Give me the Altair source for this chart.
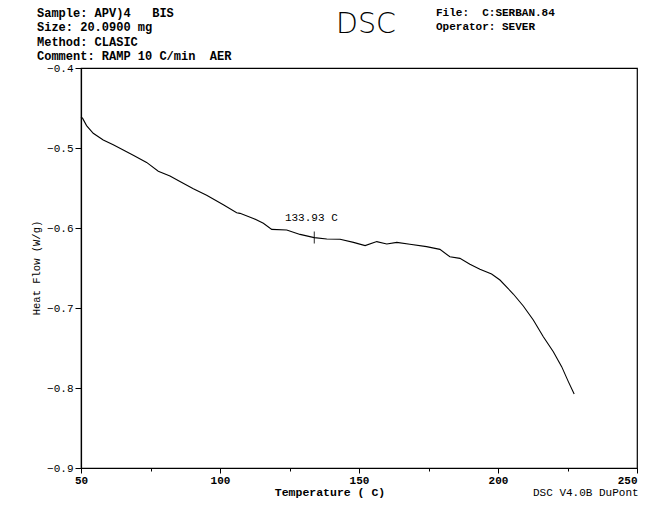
import altair as alt
import pandas as pd

# ---- data ----
temperature = [50, 50.6, 52, 54.4, 58, 61.6, 65.2, 68.8, 73.6, 77.8, 82, 85.6, 90.4, 95.2,
               101.2, 106, 107.2, 112, 115.6, 118.6, 124, 128.8, 133.9, 138.4, 143.2, 148,
               152.2, 156.4, 160, 163.6, 168.3, 174.3, 179.1, 182.7, 186.3, 189.9, 193.5,
               197.7, 200.7, 205.5, 209.1, 212.7, 216.3, 219.9, 222.9, 225.3, 227.4]
heat_flow = [-0.461, -0.463, -0.472, -0.4816, -0.49, -0.496, -0.5025, -0.509, -0.518, -0.529,
             -0.535, -0.542, -0.551, -0.559, -0.571, -0.581, -0.5817, -0.588, -0.594, -0.6017,
             -0.6025, -0.608, -0.612, -0.6138, -0.614, -0.618, -0.622, -0.617, -0.62, -0.618,
             -0.6204, -0.6233, -0.6267, -0.636, -0.638, -0.6454, -0.6517, -0.6575, -0.665,
             -0.6825, -0.6975, -0.715, -0.736, -0.7546, -0.7733, -0.792, -0.8075]

marker_t = [133.93]
marker_hf = [-0.612]
marker_label = ["133.93 C"]
label_hf = [-0.5875]

x_ticks = [50, 75, 100, 125, 150, 175, 200, 225, 250]
y_ticks = [-0.9, -0.85, -0.8, -0.75, -0.7, -0.65, -0.6, -0.55, -0.5, -0.45, -0.4]

NB = "\u00a0"
header_left = ["Sample: APV)4   BIS", "Size: 20.0900 mg", "Method: CLASIC",
               "Comment: RAMP 10 C/min  AER"]
header_right = ["File:  C:SERBAN.84", "Operator: SEVER"]

df = pd.DataFrame({"T": temperature, "HF": heat_flow})
mk = pd.DataFrame({"T": marker_t, "HF": marker_hf, "L": marker_label, "LY": label_hf})

MONO = "Liberation Mono"

x_scale = alt.Scale(domain=[50, 250], nice=False, zero=False)
y_scale = alt.Scale(domain=[-0.9, -0.4], nice=False, zero=False)

x_axis = alt.Axis(values=x_ticks, title=None, grid=False,
                  labelExpr="datum.value % 50 == 0 ? datum.label : ''",
                  labelAlign={"condition": {"test": "datum.value >= 250", "value": "right"}, "value": "center"},
                  tickSize={"condition": {"test": "datum.value % 50 == 0", "value": 5}, "value": 3},
                  labelFont=MONO, labelFontSize=11, labelFontWeight="bold",
                  labelColor="black", domainColor="black", tickColor="black",
                  domainWidth=1.2, labelPadding=1, labelFlush=False)
y_axis = alt.Axis(values=y_ticks, title=None, grid=False, format=".1f",
                  labelExpr="abs(round(datum.value*100)) % 10 == 0 ? datum.label : ''",
                  tickSize={"condition": {"test": "abs(round(datum.value*100)) % 10 == 0", "value": 6}, "value": 3},
                  labelFont=MONO, labelFontSize=11, labelColor="black",
                  domainColor="black", tickColor="black", domainWidth=1.2,
                  labelPadding=2, labelFlush=False)

line = alt.Chart(df).mark_line(color="black", strokeWidth=1.1).encode(
    x=alt.X("T:Q", scale=x_scale, axis=x_axis),
    y=alt.Y("HF:Q", scale=y_scale, axis=y_axis),
)

cross = alt.Chart(mk).mark_tick(color="black", orient="vertical", size=12, thickness=1.2).encode(
    x=alt.X("T:Q", scale=x_scale), y=alt.Y("HF:Q", scale=y_scale))

cross_label = alt.Chart(mk).mark_text(font=MONO, fontSize=11, color="black", dx=-3).encode(
    x=alt.X("T:Q", scale=x_scale), y=alt.Y("LY:Q", scale=y_scale), text="L:N")


def free_text(txt, x, y, **kw):
    return alt.Chart(pd.DataFrame({"t": [txt.replace(" ", NB)]})).mark_text(
        color="black", **kw).encode(x=alt.value(x), y=alt.value(y), text="t:N")


layers = [line, cross, cross_label]
for i, t in enumerate(header_left):
    layers.append(free_text(t, -44, -55.5 + 14.5 * i, font=MONO, fontSize=12,
                            fontWeight="bold", align="left", baseline="middle"))
for i, t in enumerate(header_right):
    layers.append(free_text(t, 355, -55 + 14 * i, font=MONO, fontSize=11,
                            fontWeight="bold", align="left", baseline="middle"))

layers.append(free_text("DSC", 285, -35, font="DejaVu Sans", fontSize=28.5,
                        fontWeight=200, align="center", baseline="alphabetic"))
layers.append(free_text("Temperature ( C)", 249, 425, font=MONO, fontSize=11.5,
                        fontWeight="bold", align="center", baseline="middle"))
layers.append(free_text("Heat Flow (W/g)", -44, 200, font=MONO, fontSize=10.5,
                        align="center", baseline="middle", angle=270))
layers.append(free_text("DSC V4.0B DuPont", 452, 425, font=MONO, fontSize=11,
                        align="left", baseline="middle"))

chart = alt.layer(*layers).properties(
    width=556, height=400,
    autosize=alt.AutoSizeParams(type="none"),
    padding={"left": 73, "top": 60, "right": 5, "bottom": 30},
    background="white",
).configure_view(stroke="black", strokeWidth=1.2)

chart.save("out.html", embed_options={"renderer": "svg", "actions": False})
